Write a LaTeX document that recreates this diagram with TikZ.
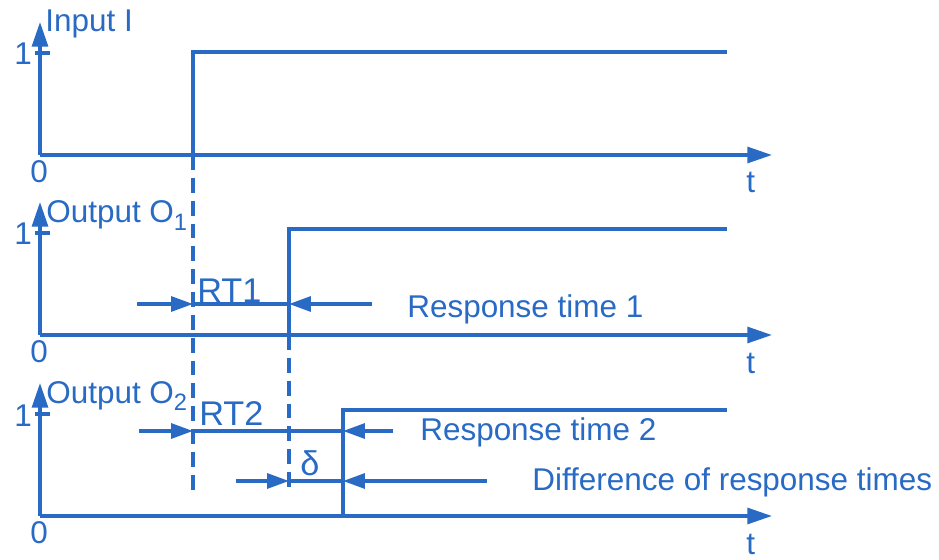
\documentclass[tikz,border=0pt]{standalone}
\usepackage{fontspec}
\setmainfont{Liberation Sans}
\usetikzlibrary{arrows.meta}
\definecolor{sigblue}{RGB}{40,106,196}
\newcommand{\lowidx}[1]{\raisebox{-0.45ex}{\fontsize{13.5}{14}\selectfont #1}}

\begin{document}
\begin{tikzpicture}[x=0.02cm,y=-0.02cm,
    every node/.style={text=sigblue,font=\fontsize{17.9}{20}\selectfont,inner sep=0pt,anchor=base west},
    big/.style={font=\fontsize{19.5}{22}\selectfont},
    sig/.style={draw=sigblue,line width=1.9pt},
    ax/.style={sig,-{Triangle[length=14pt,width=9pt]}},
    dim/.style={sig,-{Triangle[length=12.5pt,width=8.5pt]}},
    guide/.style={sig,dash pattern=on 8.5pt off 4.5pt}]
    \useasboundingbox (0,0) rectangle (939,560);
    \begin{scope}[shift={(40,155)}]
      \draw[ax] (0,0) -- (0,-133);
      \draw[ax] (0,0) -- (732,0);
      \draw[sig] (-5,-102) -- (10,-102);
      \node (one1) at (-26,-90) {1};
      \node (zero1) at (-10,28) {0};
      \node (t1) at (706,38) {t};
      \node (inlab) at (5,-123) {Input I};
      \draw[sig] (153,0) coordinate (up1) -- (153,-103) -- (687,-103);
    \end{scope}
    \begin{scope}[shift={(40,335)}]
      \draw[ax] (0,0) -- (0,-133);
      \draw[ax] (0,0) -- (732,0);
      \draw[sig] (-5,-102) -- (10,-102);
      \node (one2) at (-26,-90) {1};
      \node (zero2) at (-10,27) {0};
      \node (t2) at (706,38) {t};
      \node (outlab1) at (6,-112) {Output O\lowidx{1}};
      \draw[sig] (249,0) coordinate (up2) -- (249,-106) -- (687,-106);
    \end{scope}
    \begin{scope}[shift={(40,516)}]
      \draw[ax] (0,0) -- (0,-133);
      \draw[ax] (0,0) -- (732,0);
      \draw[sig] (-5,-102) -- (10,-102);
      \node (one3) at (-26,-90) {1};
      \node (zero3) at (-10,27) {0};
      \node (t3) at (706,38) {t};
      \node (outlab2) at (6,-113) {Output O\lowidx{2}};
      \draw[sig] (303,0) coordinate (up3) -- (303,-106) -- (687,-106);
    \end{scope}
    \draw[guide] (up1) -- ++(0,340);
    \draw[guide] (up2) -- ++(0,152);
    \draw[dim] (137,304) -- (up1 |- 0,304);
    \draw[sig] (up1 |- 0,304) -- (up2 |- 0,304);
    \draw[dim] (372,304) -- (up2 |- 0,304);
    \node[big] (rt1) at (197,302) {RT1};
    \node (rt1txt) at (407,317) {Response time 1};
    \draw[dim] (139,431) -- (up1 |- 0,431);
    \draw[sig] (up1 |- 0,431) -- (up3 |- 0,431);
    \draw[dim] (393,431) -- (up3 |- 0,431);
    \node[big] (rt2) at (199,425) {RT2};
    \node (rt2txt) at (420,440) {Response time 2};
    \draw[dim] (236,481) -- (up2 |- 0,481);
    \draw[sig] (up2 |- 0,481) -- (up3 |- 0,481);
    \draw[dim] (487,481) -- (up3 |- 0,481);
    \node[big] (dlt) at (300,475) {δ};
    \node (dlttxt) at (532,490) {Difference of response times};
\end{tikzpicture}
\end{document}
